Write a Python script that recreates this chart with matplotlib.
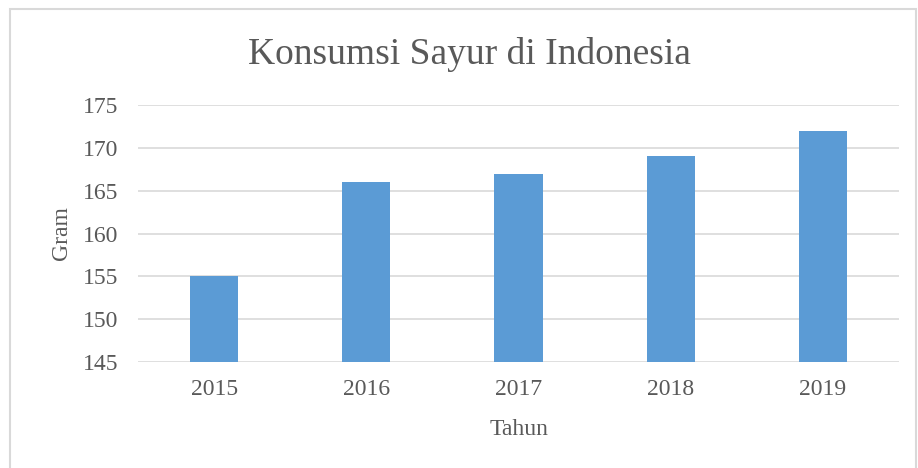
import matplotlib.pyplot as plt
from matplotlib.patches import Rectangle

years = ["2015", "2016", "2017", "2018", "2019"]
gram = [155, 166, 167, 169, 172]
y_ticks = [145, 150, 155, 160, 165, 170, 175]

text_color = "#595959"
bar_color = "#5B9BD5"
grid_color = "#D9D9D9"

plt.rcParams["font.family"] = ["Liberation Serif", "DejaVu Serif"]

fig = plt.figure(figsize=(9.18, 4.68), dpi=100)
ax = fig.add_axes([138 / 918, 1 - 362 / 468, (899 - 138) / 918, (362 - 105) / 468])

x = range(len(years))
ax.bar(x, gram, width=0.316, color=bar_color, zorder=3)
ax.set_xlim(-0.5, len(years) - 0.5)
ax.set_ylim(min(y_ticks), max(y_ticks))
ax.set_yticks(y_ticks)
ax.set_xticks(list(x))
ax.set_xticklabels(years)
ax.yaxis.grid(True, color=grid_color, linewidth=1.2, zorder=0)
for s in ax.spines.values():
    s.set_visible(False)
ax.tick_params(length=0, labelsize=17, colors=text_color)
ax.tick_params(axis="x", pad=12)
ax.tick_params(axis="y", pad=14)

ax.set_xlabel("Tahun", fontsize=17, color=text_color, labelpad=14)
ax.set_ylabel("Gram", fontsize=17, color=text_color, labelpad=8)
fig.text(469 / 918, 1 - 55 / 468, "Konsumsi Sayur di Indonesia", fontsize=27,
         color=text_color, ha="center", va="center")

fig.patches.append(Rectangle((10 / 918, -0.05), 906 / 918, 1 - 9 / 468 + 0.05,
                             transform=fig.transFigure, fill=False,
                             edgecolor="#D9D9D9", linewidth=1.5))

fig.savefig("out.png", dpi=100)
